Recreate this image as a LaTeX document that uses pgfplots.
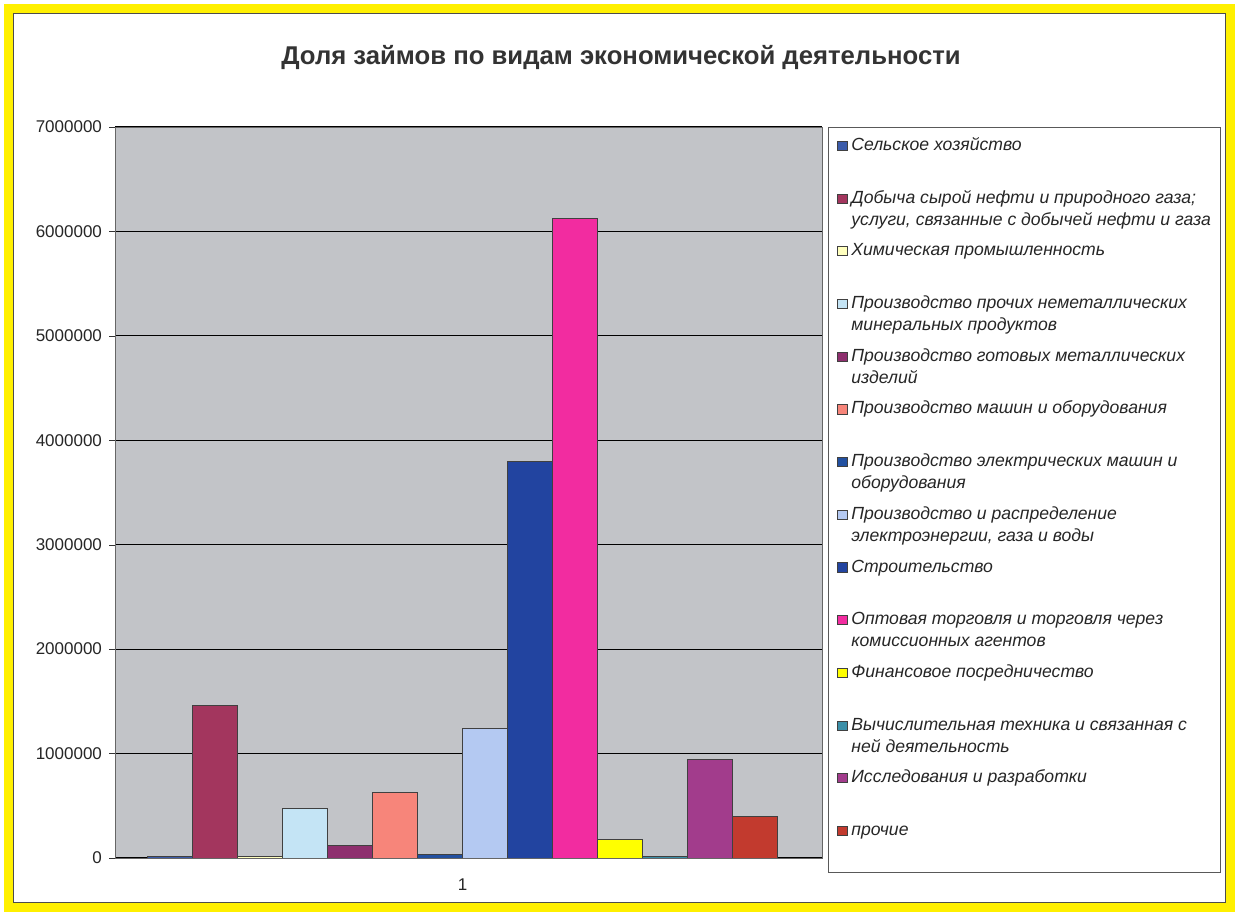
\documentclass[border=0pt]{standalone}
\usepackage{fontspec}
\setmainfont{Liberation Sans}
\usepackage{pgfplots}
\pgfplotsset{compat=1.18}
\definecolor{c1}{RGB}{60,92,170}
\definecolor{c2}{RGB}{163,54,94}
\definecolor{c3}{RGB}{255,255,190}
\definecolor{c4}{RGB}{196,228,245}
\definecolor{c5}{RGB}{142,47,110}
\definecolor{c6}{RGB}{247,133,122}
\definecolor{c7}{RGB}{34,80,160}
\definecolor{c8}{RGB}{180,201,242}
\definecolor{c9}{RGB}{34,68,160}
\definecolor{c10}{RGB}{242,44,160}
\definecolor{c11}{RGB}{255,255,0}
\definecolor{c12}{RGB}{59,143,168}
\definecolor{c13}{RGB}{162,60,140}
\definecolor{c14}{RGB}{194,58,46}
\definecolor{plotbg}{RGB}{194,196,200}
\definecolor{frameyellow}{RGB}{255,240,0}
\newcommand{\legtext}[1]{\makebox[178pt][l]{\begin{tabular}[t]{@{}l@{}}#1\end{tabular}}}
\begin{document}
\begin{tikzpicture}[x=1pt,y=1pt]
\fill[white] (0,0) rectangle (619.5,458);
\draw[line width=4.5pt, frameyellow] (4.25,4.25) rectangle (615.25,453.75);
\draw[line width=0.6pt, black!70] (6.8,6.8) rectangle (612.7,451.2);
\node[font=\bfseries\fontsize{12.85}{15}\selectfont, text=black!80] at (310.5,429) {Доля займов по видам экономической деятельности};
\begin{axis}[
  at={(57.5pt,29pt)}, anchor=south west, scale only axis,
  width=353.5pt, height=365.5pt,
  axis background/.style={fill=plotbg},
  ybar=0pt, bar width=22.5pt,
  xmin=0.017, xmax=2.017, ymin=0, ymax=7000000,
  xtick={1}, xticklabels={1},
  ytick={0,1000000,2000000,3000000,4000000,5000000,6000000,7000000},
  yticklabels={0,1000000,2000000,3000000,4000000,5000000,6000000,7000000},
  scaled y ticks=false,
  tick label style={font=\fontsize{8.5}{10}\selectfont, text=black!85},
  xticklabel style={yshift=-4pt},
  /pgf/number format/assume math mode=true,
  tick pos=left,
  tick align=outside, major tick length=3pt,
  tick style={black!80},
  major x tick style={draw=none},
  ymajorgrids, grid style={black, line width=0.5pt},
  axis line style={black!60},
  legend cell align=left,
  legend image code/.code={\draw[#1, line width=0.4pt] (0pt,0pt) rectangle (4.6pt,4.6pt);
     \path (0pt,-16.45pt) (0pt,9pt);},
  legend style={at={(1,1)}, anchor=north west, xshift=3pt,
    draw=black!65, fill=white, inner xsep=4.5pt, inner ysep=1.8pt,
    font=\itshape\fontsize{8.8}{11}\selectfont, text=black!85,
    row sep=0pt, cells={anchor=base west}},
]
\addplot[fill=c1, draw=black!75] coordinates {(1,12000)};
\addlegendentry{\legtext{Сельское хозяйство}}
\addplot[fill=c2, draw=black!75] coordinates {(1,1460000)};
\addlegendentry{\legtext{Добыча сырой нефти и природного газа;\\услуги, связанные с добычей нефти и газа}}
\addplot[fill=c3, draw=black!75] coordinates {(1,12000)};
\addlegendentry{\legtext{Химическая промышленность}}
\addplot[fill=c4, draw=black!75] coordinates {(1,475000)};
\addlegendentry{\legtext{Производство прочих неметаллических\\минеральных продуктов}}
\addplot[fill=c5, draw=black!75] coordinates {(1,125000)};
\addlegendentry{\legtext{Производство готовых металлических\\изделий}}
\addplot[fill=c6, draw=black!75] coordinates {(1,625000)};
\addlegendentry{\legtext{Производство машин и оборудования}}
\addplot[fill=c7, draw=black!75] coordinates {(1,30000)};
\addlegendentry{\legtext{Производство электрических машин и\\оборудования}}
\addplot[fill=c8, draw=black!75] coordinates {(1,1245000)};
\addlegendentry{\legtext{Производство и распределение\\электроэнергии, газа и воды}}
\addplot[fill=c9, draw=black!75] coordinates {(1,3800000)};
\addlegendentry{\legtext{Строительство}}
\addplot[fill=c10, draw=black!75] coordinates {(1,6120000)};
\addlegendentry{\legtext{Оптовая торговля и торговля через\\комиссионных агентов}}
\addplot[fill=c11, draw=black!75] coordinates {(1,180000)};
\addlegendentry{\legtext{Финансовое посредничество}}
\addplot[fill=c12, draw=black!75] coordinates {(1,12000)};
\addlegendentry{\legtext{Вычислительная техника и связанная с\\ней деятельность}}
\addplot[fill=c13, draw=black!75] coordinates {(1,945000)};
\addlegendentry{\legtext{Исследования и разработки}}
\addplot[fill=c14, draw=black!75] coordinates {(1,395000)};
\addlegendentry{\legtext{прочие}}
\end{axis}
\end{tikzpicture}
\end{document}
